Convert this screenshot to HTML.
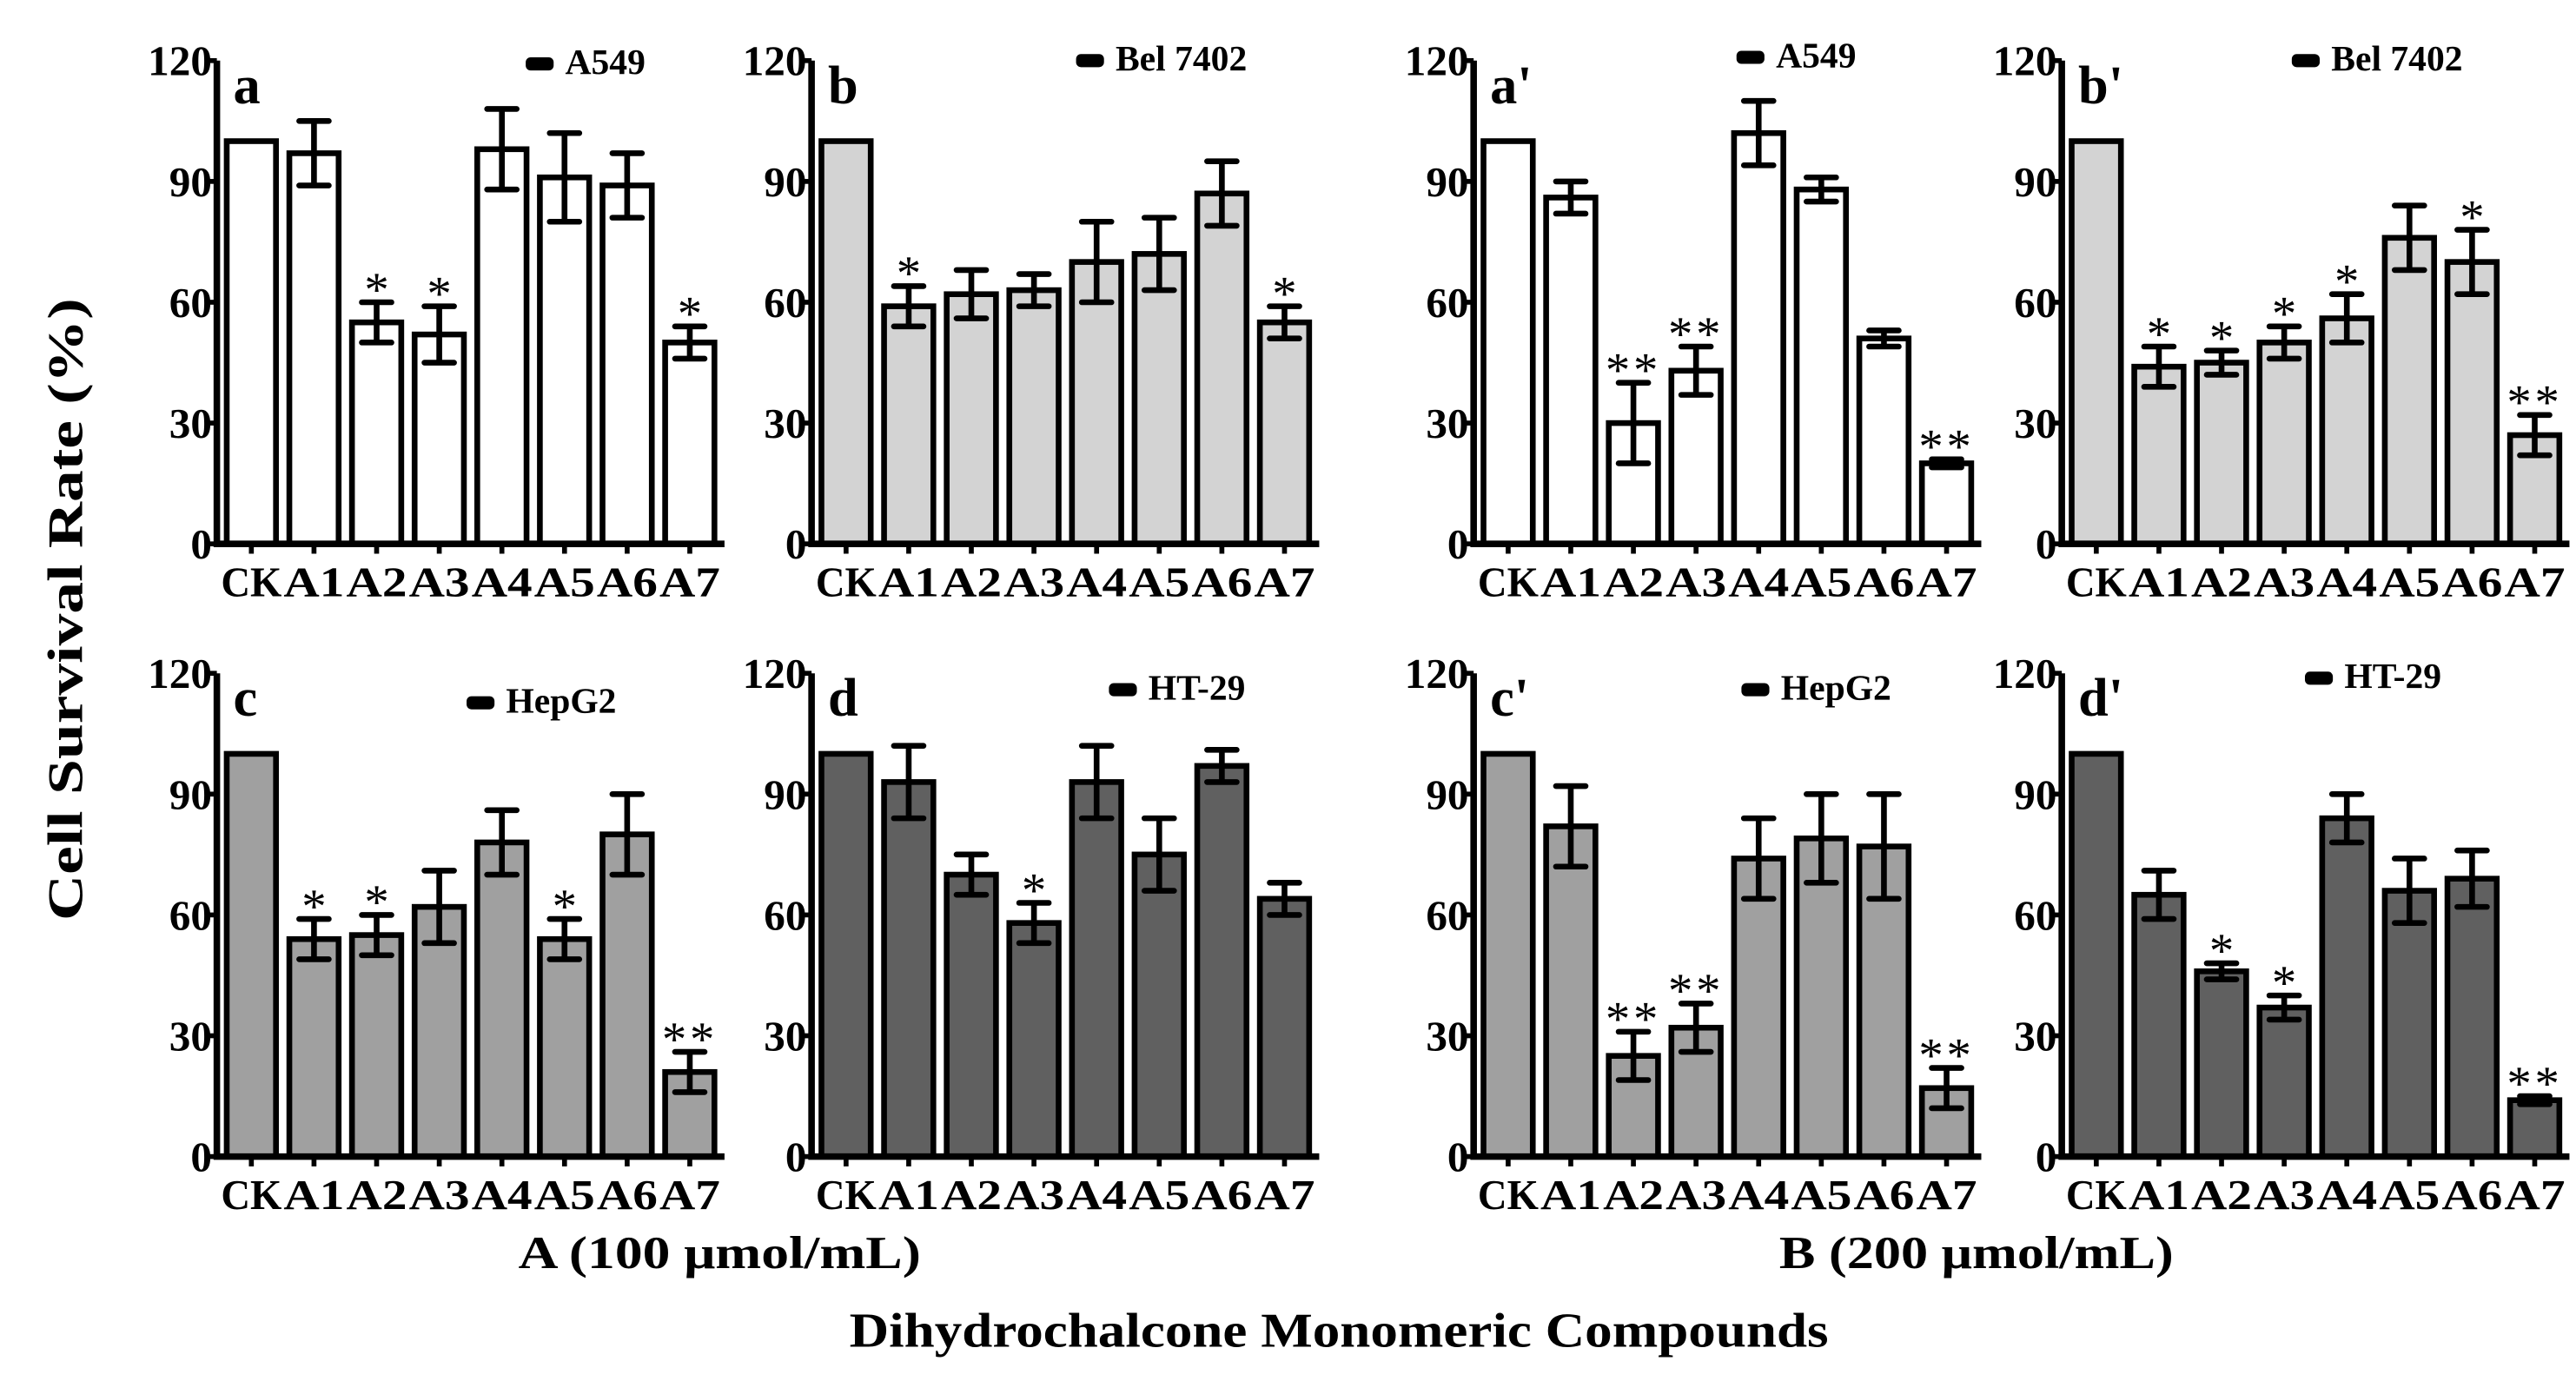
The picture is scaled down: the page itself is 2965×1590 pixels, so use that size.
<!DOCTYPE html>
<html><head><meta charset="utf-8">
<style>
html,body{margin:0;padding:0;background:#fff;}
svg{display:block;}
text{font-family:"Liberation Serif",serif;font-weight:bold;fill:#000;}
</style></head>
<body>
<svg id="chart" width="2965" height="1590" viewBox="0 0 1568 843" preserveAspectRatio="none" xmlns="http://www.w3.org/2000/svg">
<rect x="0" y="0" width="1568" height="843" fill="#fff"/>
<text transform="translate(50,372) rotate(-90)" text-anchor="middle" font-size="30" textLength="380" lengthAdjust="spacingAndGlyphs">Cell Survival Rate (%)</text>
<text x="438" y="774" text-anchor="middle" font-size="28" textLength="245" lengthAdjust="spacingAndGlyphs">A (100 μmol/mL)</text>
<text x="1203" y="774" text-anchor="middle" font-size="28" textLength="240" lengthAdjust="spacingAndGlyphs">B (200 μmol/mL)</text>
<text x="815" y="822" text-anchor="middle" font-size="30" textLength="596" lengthAdjust="spacingAndGlyphs">Dihydrochalcone Monomeric Compounds</text>
<g id="panels"></g>
</svg>
<script>
const categories = ["CK","A1","A2","A3","A4","A5","A6","A7"];
const yTicks = [0,30,60,90,120];
const panelIds = ["a","b","a'","b'","c","d","c'","d'"];
const cellLines = ["A549","Bel 7402","A549","Bel 7402","HepG2","HT-29","HepG2","HT-29"];
const valsA  = [100,97,55,52,98,91,89,50];
const errA   = [0,8,5,7,10,11,8,4];
const sigA   = ["","","*","*","","","","*"];
const valsB  = [100,59,62,63,70,72,87,55];
const errB   = [0,5,6,4,10,9,8,4];
const sigB   = ["","*","","","","","","*"];
const valsA2 = [100,86,30,43,102,88,51,20];
const errA2  = [0,4,10,6,8,3,2,1];
const sigA2  = ["","","**","**","","","","**"];
const valsB2 = [100,44,45,50,56,76,70,27];
const errB2  = [0,5,3,4,6,8,8,5];
const sigB2  = ["","*","*","*","*","","*","**"];
const valsC  = [100,54,55,62,78,54,80,21];
const errC   = [0,5,5,9,8,5,10,5];
const sigC   = ["","*","*","","","*","","**"];
const valsD  = [100,93,70,58,93,75,97,64];
const errD   = [0,9,5,5,9,9,4,4];
const sigD   = ["","","","*","","","",""];
const valsC2 = [100,82,25,32,74,79,77,17];
const errC2  = [0,10,6,6,10,11,13,5];
const sigC2  = ["","","**","**","","","","**"];
const valsD2 = [100,65,46,37,84,66,69,14];
const errD2  = [0,6,2,3,6,8,7,1];
const sigD2  = ["","","*","*","","","","**"];

const allVals=[valsA,valsB,valsA2,valsB2,valsC,valsD,valsC2,valsD2];
const allErr=[errA,errB,errA2,errB2,errC,errD,errC2,errD2];
const allSig=[sigA,sigB,sigA2,sigB2,sigC,sigD,sigC2,sigD2];
const fills=["#ffffff","#d3d3d3","#ffffff","#d3d3d3","#a0a0a0","#606060","#a0a0a0","#606060"];
const axX=[132,494,897,1255,132,494,897,1255];
const topY=[37,37,37,37,411,411,411,411];
const legX=[320,655,1057,1395,284,675,1060,1403];
const legY=[40,38,36,38,430,422,422,415];
const NS="http://www.w3.org/2000/svg";
const root=document.getElementById('panels');
function mk(tag,attrs,parent){const e=document.createElementNS(NS,tag);for(const k in attrs)e.setAttribute(k,attrs[k]);parent.appendChild(e);return e;}

for(let p=0;p<8;p++){
  const g=mk('g',{},root);
  
  
  const x0=axX[p], yt=topY[p], yb=yt+295, W=305, slot=W/8, bw=30;
  const yS=v=>yb-(v/120)*(yb-yt);
  const xC=i=>x0+5+slot*i+bw/2+1;
  allVals[p].forEach((v,i)=>{
    const r=mk('rect',{x:xC(i)-bw/2,y:yS(v),width:bw,height:yb-yS(v),fill:fills[p],stroke:'#000','stroke-width':3.5},g);
    
    
    const e=allErr[p][i];
    if(e>0){
      const cx=xC(i);
      const eb=mk('path',{d:`M${cx},${yS(v+e)}V${yS(v-e)}M${cx-9},${yS(v+e)}H${cx+9}M${cx-9},${yS(v-e)}H${cx+9}`,stroke:'#000','stroke-width':3.5,fill:'none','stroke-linecap':'round'},g);
      
      
    }
    const s=allSig[p][i];
    if(s){
      const t=mk('text',{x:xC(i),y:yS(v+e)+2,'text-anchor':'middle','font-size':30,style:'font-weight:normal','letter-spacing':s.length>1?'2':'0'},g);
      t.textContent=s;
      
      
    }
    const tk=mk('line',{x1:xC(i),x2:xC(i),y1:yb,y2:yb+6,stroke:'#000','stroke-width':3},g);
    
    
    const lb=mk('text',{x:xC(i),y:yb+32,'text-anchor':'middle','font-size':26,textLength:37,lengthAdjust:'spacingAndGlyphs'},g);
    lb.textContent=categories[i];
    
    
  });
  const ax=mk('path',{d:`M${x0},${yt}V${yb}H${x0+W+4}`,stroke:'#000','stroke-width':4,fill:'none'},g);
  
  
  yTicks.forEach(t=>{
    const l=mk('line',{x1:x0-5,x2:x0,y1:yS(t),y2:yS(t),stroke:'#000','stroke-width':3},g);
    
    
    const tx=mk('text',{x:x0-3,y:yS(t)+9,'text-anchor':'end','font-size':26},g);
    tx.textContent=String(t);
    
    
  });
  const pl=mk('text',{x:x0+10,y:yt+26,'font-size':33},g);
  pl.textContent=panelIds[p];
  
  
  const lr=mk('rect',{x:legX[p],y:legY[p]-5,width:17,height:8,rx:3,fill:'#000'},g);
  
  
  const lt=mk('text',{x:legX[p]+24,y:legY[p]+5,'font-size':22},g);
  lt.textContent=cellLines[p];
  
  
}
</script>
</body></html>
